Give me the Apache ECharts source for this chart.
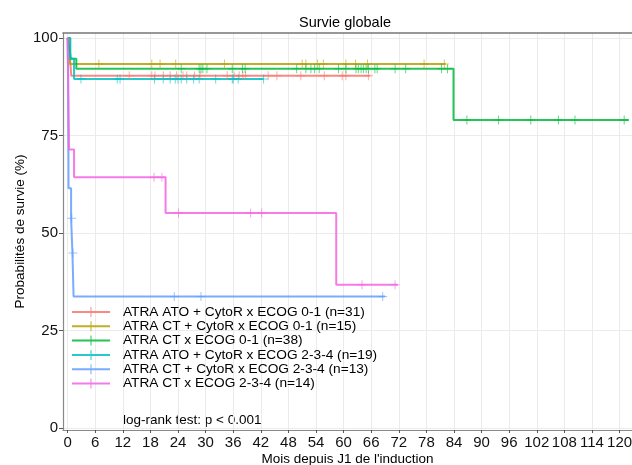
<!DOCTYPE html>
<html><head><meta charset="utf-8">
<script src="https://cdn.jsdelivr.net/npm/echarts@6/dist/echarts.min.js"></script>
<style>html,body{margin:0;padding:0;background:#fff}#c{width:632px;height:465px}</style>
</head><body><div id="c"></div>
<script>
const seriesNames = [
  'ATRA ATO + CytoR x ECOG 0-1 (n=31)',
  'ATRA CT + CytoR x ECOG 0-1 (n=15)',
  'ATRA CT x ECOG 0-1 (n=38)',
  'ATRA ATO + CytoR x ECOG 2-3-4 (n=19)',
  'ATRA CT + CytoR x ECOG 2-3-4 (n=13)',
  'ATRA CT x ECOG 2-3-4 (n=14)'
];
const colors = ['#F8766D', '#B79F00', '#00BA38', '#00BFC4', '#619CFF', '#F564E3'];

const xTicks = [0, 6, 12, 18, 24, 30, 36, 42, 48, 54, 60, 66, 72, 78, 84, 90, 96, 102, 108, 114, 120];
const yTicks = [0, 25, 50, 75, 100];

// Step curves: event times and survival (%) after each time
const redTimes = [0, 0.4, 0.6, 0.8, 65.8];
const redSurv = [100, 96.8, 93.5, 90.3, 90.3];
const redCensor = [13.4, 18.3, 19.0, 20.8, 22.3, 23.7, 25.1, 25.9, 27.6, 28.8, 34.7, 36.2, 37.3, 38.1, 38.7, 43.6, 45.5, 50.7, 55.8, 59.7, 60.5, 65.4];

const oliveTimes = [0, 0.5, 82.2];
const oliveSurv = [100, 93.3, 93.3];
const oliveCensor = [6.8, 18.3, 20.1, 23.5, 34.1, 51.0, 51.8, 54.3, 55.6, 60.5, 62.6, 65.2, 77.5, 81.9];

const greenTimes = [0, 0.4, 0.7, 1.9, 83.9, 122.0];
const greenSurv = [100, 97.4, 94.7, 92.1, 79.0, 79.0];
const greenCensor = [24.7, 28.6, 29.0, 29.4, 30.3, 35.8, 38.0, 38.6, 49.8, 51.8, 52.9, 53.7, 54.7, 58.9, 60.5, 62.7, 63.2, 63.8, 64.3, 64.9, 65.4, 66.8, 67.3, 71.2, 73.5, 81.3, 82.6, 86.8, 93.7, 100.7, 106.7, 110.3, 121.0];

const cyanTimes = [0, 0.6, 1.4, 42.6];
const cyanSurv = [100, 94.7, 89.5, 89.5];
const cyanCensor = [2.9, 10.8, 11.4, 18.9, 20.8, 22.3, 23.4, 24.0, 24.7, 25.9, 27.4, 28.6, 32.2, 35.8, 36.0, 37.1, 42.6];

const blueTimes = [0, 0.1, 0.13, 0.16, 0.19, 0.2, 0.76, 1.05, 1.3, 69.0];
const blueSurv = [100, 92.3, 84.6, 76.9, 69.2, 61.5, 53.8, 44.9, 33.7, 33.7];
const blueCensor = [0.9, 1.15, 23.2, 29.0, 68.5];

const pinkTimes = [0, 0.3, 1.4, 21.3, 58.4, 71.8];
const pinkSurv = [100, 71.4, 64.3, 55.1, 36.7, 36.7];
const pinkCensor = [18.8, 20.5, 24.1, 39.8, 42.2, 64.0, 71.2];

const curves = [
  [redTimes, redSurv, redCensor],
  [oliveTimes, oliveSurv, oliveCensor],
  [greenTimes, greenSurv, greenCensor],
  [cyanTimes, cyanSurv, cyanCensor],
  [blueTimes, blueSurv, blueCensor],
  [pinkTimes, pinkSurv, pinkCensor]
];

function survAt(times, surv, t) {
  let v = surv[0];
  for (let i = 0; i < times.length; i++) { if (times[i] <= t) v = surv[i]; }
  return v;
}

const plusPath = 'path://M4,0L5,0L5,4L9,4L9,5L5,5L5,9L4,9L4,5L0,5L0,4L4,4Z';
const legendIcon = 'path://M0,4L38,4L38,6L0,6Z M18.5,0L19.5,0L19.5,10L18.5,10Z';

const series = [];
curves.forEach((c, k) => {
  const [times, surv, cens] = c;
  series.push({
    name: seriesNames[k], type: 'line', step: 'end', showSymbol: false, symbol: 'none',
    data: times.map((t, i) => [t, surv[i]]),
    lineStyle: { width: 2, color: colors[k], opacity: 0.85 },
    itemStyle: { color: colors[k] },
    silent: true, animation: false, z: 3
  });
  series.push({
    name: seriesNames[k] + ' censor', type: 'scatter', symbol: plusPath, symbolSize: 9,
    data: cens.map(t => [t, survAt(times, surv, t)]),
    itemStyle: { color: colors[k], opacity: 0.6 },
    silent: true, animation: false, z: 4
  });
});

const FF = 'Liberation Sans, Arial, sans-serif';
const chart = echarts.init(document.getElementById('c'), null, { renderer: 'canvas' });
chart.setOption({
  animation: false,
  backgroundColor: '#fff',
  textStyle: { fontFamily: FF },
  title: {
    text: 'Survie globale', left: 340, top: 10, textAlign: 'center',
    textStyle: { fontSize: 14.5, fontWeight: 'normal', color: '#000', fontFamily: FF }
  },
  grid: { left: 63, right: 0, top: 33, bottom: 35, containLabel: false, outerBoundsMode: 'none' },
  xAxis: [{
    type: 'value', min: -1, max: 122.7,
    name: "Mois depuis J1 de l'induction", nameLocation: 'middle', nameGap: 22, nameMoveOverlap: false,
    nameTextStyle: { fontSize: 13.5, color: '#000' },
    axisLine: { show: true, onZero: false, lineStyle: { color: '#888', width: 1.2 } },
    axisTick: { show: true, length: 3, customValues: xTicks, lineStyle: { color: '#555' } },
    axisLabel: { customValues: xTicks, fontSize: 15, color: '#111', margin: 5 },
    splitLine: { show: true, lineStyle: { color: '#ebebeb', width: 1 } }
  }, {
    type: 'value', min: -1, max: 122.7, position: 'top',
    axisLine: { show: true, onZero: false, lineStyle: { color: '#777', width: 1.5 } },
    axisTick: { show: false }, axisLabel: { show: false }, splitLine: { show: false }
  }],
  yAxis: {
    type: 'value', min: -0.51, max: 101.28,
    name: 'Probabilités de survie (%)', nameLocation: 'middle', nameGap: 36, nameRotate: 90, nameMoveOverlap: false,
    nameTextStyle: { fontSize: 13.5, color: '#000' },
    axisLine: { show: true, onZero: false, lineStyle: { color: '#888', width: 1.2 } },
    axisTick: { show: true, length: 4, customValues: yTicks, lineStyle: { color: '#555' } },
    axisLabel: { customValues: yTicks, fontSize: 15, color: '#111', margin: 5 },
    splitLine: { show: true, lineStyle: { color: '#ebebeb', width: 1 } }
  },
  legend: {
    orient: 'vertical', left: 72, top: 305, itemWidth: 38, itemHeight: 10, itemGap: 0.3,
    data: seriesNames.map((n, k) => ({ name: n, icon: legendIcon, itemStyle: { color: colors[k], opacity: 0.85 } })),
    textStyle: { fontSize: 13.7, lineHeight: 14, color: '#000', padding: [0, 0, 0, 8] },
    selectedMode: false, padding: 0
  },
  graphic: [{
    type: 'text', left: 123, top: 413,
    style: { text: 'log-rank test: p < 0.001', fontSize: 13.5, fill: '#000', fontFamily: FF }
  }],
  series: series
});
</script>
</body></html>
